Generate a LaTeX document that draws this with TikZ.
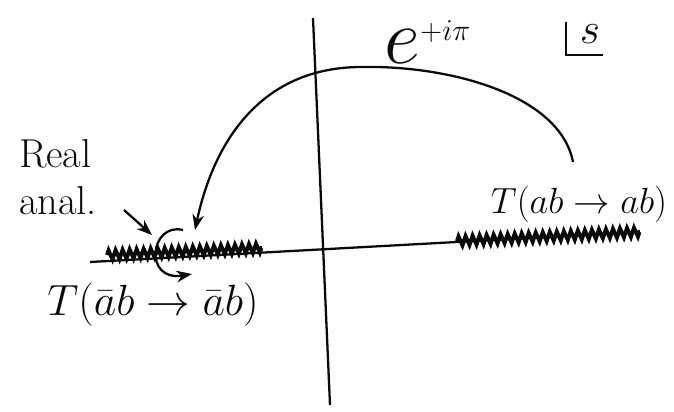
\documentclass[tikz,border=0pt]{standalone}
\usepackage{amsmath, amssymb, graphicx}
\usepackage{tikz}
\usetikzlibrary{arrows.meta, decorations.pathmorphing, calc}
\usepackage{xcolor}
\definecolor{inkblack}{RGB}{10, 10, 10}
\tikzset{
  ink/.style={inkblack, line width=1.3pt},
  cut/.style={inkblack, line width=2.2pt, decorate,
    decoration={zigzag, amplitude=2.6pt, segment length=4pt}},
  hand/.style={inkblack, inner sep=0pt}
}

\begin{document}
\begin{tikzpicture}[x=0.02cm, y=-0.02cm, >=Stealth]
  \useasboundingbox (0,0) rectangle (674,412);

  % ---------- Axes ----------
  \coordinate (imtop) at (313,18);
  \coordinate (imbot) at (330,405);
  \coordinate (releft) at (90,262);
  \coordinate (reright) at (640,232);
  \draw[ink] (imtop) -- (imbot);
  \draw[ink] (releft) -- (reright);

  % ---------- Cuts ----------
  \coordinate (lcuta) at (107,255);
  \coordinate (lcutb) at (262,248);
  \coordinate (rcuta) at (457,241);
  \coordinate (rcutb) at (640,232);
  \draw[cut] (lcuta) -- (lcutb);
  \draw[cut] (rcuta) -- (rcutb);

  % ---------- Rotation by e^{+i pi} ----------
  \coordinate (arcstart) at (573,162);
  \coordinate (arcend) at (195,230);
  \draw[ink, ->] (arcstart) .. controls (560,95) and (450,65) .. (360,67)
    .. controls (255,68) and (212,150) .. (arcend);
  \node[hand, font=\fontsize{24}{28}\selectfont] (phase) at (428,42)
    {$\scalebox{1.8}{$e$}^{+i\pi}$};

  % ---------- s-plane label ----------
  \node[hand, font=\fontsize{24}{28}\selectfont] (splane) at (590,34) {$s$};
  \draw[ink] (splane.center) ++(-24,-12) |- ++(37,33);

  % ---------- Real analyticity ----------
  \node[hand, font=\fontsize{23}{27}\selectfont, align=left] (realanal) at (58,177) {Real\\anal.};
  \coordinate (rafrom) at (124,210);
  \coordinate (ratip) at (152,235);
  \draw[ink, ->] (rafrom) -- (ratip);
  \coordinate (loopa) at (183,230);
  \coordinate (loopb) at (192,274);
  \draw[ink, ->] (loopa) .. controls (150,222) and (143,282) .. (loopb);

  % ---------- Amplitudes ----------
  \node[hand, font=\fontsize{25}{29}\selectfont] (tbar) at (153,305) {$T(\bar a b\to \bar a b)$};
  \node[hand, font=\fontsize{20}{24}\selectfont] (tab) at (579,204) {$T(ab\to ab)$};

\end{tikzpicture}
\end{document}
